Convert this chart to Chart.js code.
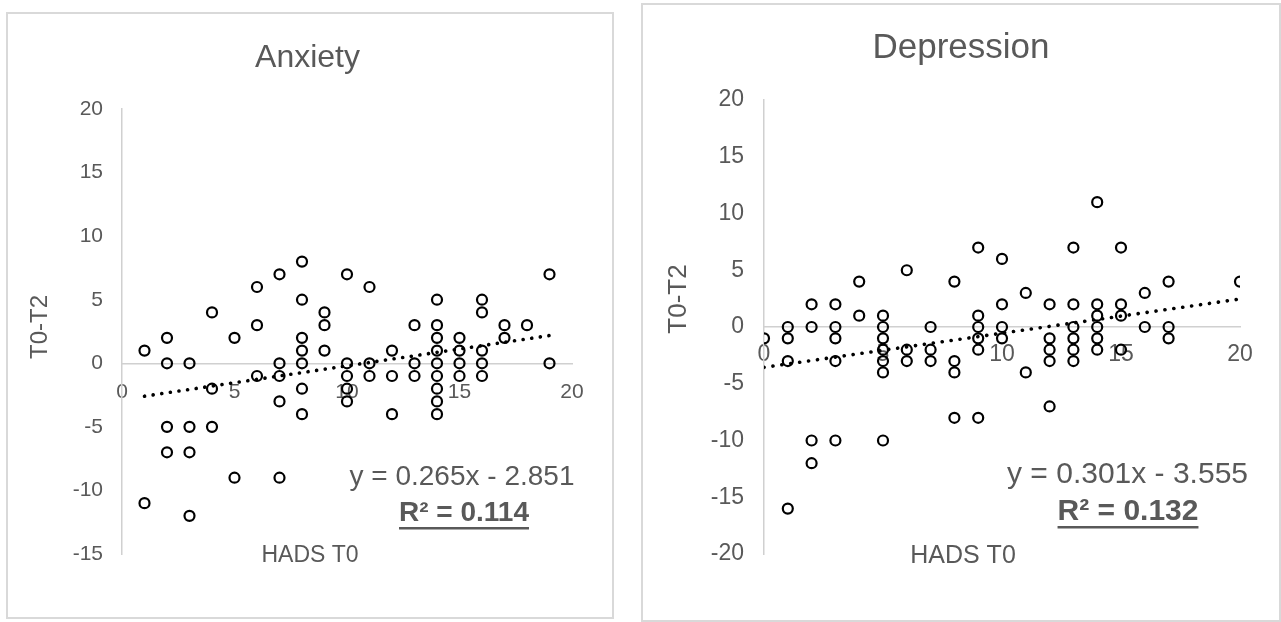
<!DOCTYPE html>
<html><head><meta charset="utf-8">
<script src="https://cdn.jsdelivr.net/npm/chart.js@4.4.0/dist/chart.umd.min.js"></script>
<style>
html,body{margin:0;padding:0;background:#fff;width:1281px;height:622px;overflow:hidden;}
canvas{position:absolute;}
#cv1{left:6px;top:12px;}
#cv2{left:641px;top:3px;}
</style></head><body>
<canvas id="cv1" width="608" height="607"></canvas>
<canvas id="cv2" width="640" height="619"></canvas>
<script>
// ---- Anxiety (HADS T0 vs T0-T2) ----
const anxietyX = [1,1, 2,2,2,2, 3,3,3,3, 4,4,4, 5,5, 6,6,6, 7,7,7,7,7,
  8,8,8,8,8,8,8, 9,9,9, 10,10,10,10,10, 11,11,11, 12,12,12, 13,13,13,
  14,14,14,14,14,14,14,14,14, 15,15,15,15, 16,16,16,16,16, 17,17, 18, 19,19];
const anxietyY = [1,-11, 2,0,-5,-7, 0,-5,-7,-12, 4,-2,-5, 2,-9, 6,3,-1, 7,0,-1,-3,-9,
  8,5,2,1,0,-2,-4, 4,3,1, 7,0,-1,-2,-3, 6,0,-1, 1,-1,-4, 3,0,-1,
  5,3,2,1,0,-1,-2,-3,-4, 2,1,0,-1, 5,4,1,0,-1, 3,2, 3, 7,0];
const anxietyTrendX = [1, 19];
const anxietyTrendY = [-2.586, 2.184];

// ---- Depression ----
const depressionX = [0, 1,1,1,1, 2,2,2,2, 3,3,3,3,3, 4,4, 5,5,5,5,5,5,5, 6,6,6, 7,7,7,
  8,8,8,8, 9,9,9,9,9,9, 10,10,10,10, 11,11, 12,12,12,12,12, 13,13,13,13,13,13,
  14,14,14,14,14,14, 15,15,15,15, 16,16, 17,17,17, 20];
const depressionY = [-1, 0,-1,-3,-16, 2,0,-10,-12, 2,0,-1,-3,-10, 4,1, 1,0,-1,-2,-3,-4,-10, 5,-2,-3, 0,-2,-3,
  4,-3,-4,-8, 7,1,0,-1,-2,-8, 6,2,0,-1, 3,-4, 2,-1,-2,-3,-7, 7,2,0,-1,-2,-3,
  11,2,1,0,-1,-2, 7,2,1,-2, 3,0, 4,0,-1, 4];
const depressionTrendX = [0, 20];
const depressionTrendY = [-3.555, 2.465];

const xTickValues = [0, 5, 10, 15, 20];
const anxietyYTicks = [20, 15, 10, 5, 0, -5, -10, -15];
const depressionYTicks = [20, 15, 10, 5, 0, -5, -10, -15, -20];

const titles = ['Anxiety', 'Depression'];
const xTitle = 'HADS T0';
const yTitle = 'T0-T2';
const equations = ['y = 0.265x - 2.851', 'y = 0.301x - 3.555'];
const r2Labels = ['R² = 0.114', 'R² = 0.132'];

const FAM = '"Liberation Sans", Arial, sans-serif';
const GREY = '#595959';

function pts(xs, ys){ return xs.map((x,i)=>({x:x, y:ys[i]})); }

function decoPlugin(items){
  return {
    id: 'deco',
    beforeDraw(chart){
      const ctx = chart.ctx;
      ctx.save();
      ctx.fillStyle = '#fff';
      ctx.fillRect(0,0,chart.width,chart.height);
      ctx.strokeStyle = '#d9d9d9';
      ctx.lineWidth = 2;
      ctx.strokeRect(1,1,chart.width-2,chart.height-2);
      ctx.restore();
    },
    afterDraw(chart){
      const ctx = chart.ctx;
      for (const t of items){
        ctx.save();
        ctx.font = t.font;
        ctx.fillStyle = GREY;
        ctx.textAlign = 'center';
        ctx.textBaseline = t.baseline || 'middle';
        ctx.translate(t.x, t.y);
        if (t.rotate) ctx.rotate(-Math.PI/2);
        ctx.fillText(t.text, 0, 0);
        if (t.underline){
          const w = ctx.measureText(t.text).width;
          ctx.fillRect(-w/2, t.underline, w, 2.5);
        }
        ctx.restore();
      }
    }
  };
}

function makeChart(id, cfg){
  const yTicks = cfg.yTicks;
  new Chart(document.getElementById(id), {
    type: 'scatter',
    data: {
      datasets: [
        {
          data: pts(cfg.tx, cfg.ty),
          showLine: true,
          borderColor: '#000',
          borderWidth: 3.6,
          borderDash: [0.1, cfg.dash],
          borderCapStyle: 'round',
          pointRadius: 0,
          fill: false
        },
        {
          data: pts(cfg.x, cfg.y),
          pointRadius: 5,
          pointBorderWidth: 2.2,
          pointBorderColor: '#000',
          pointBackgroundColor: 'rgba(0,0,0,0)',
          showLine: false
        }
      ]
    },
    options: {
      responsive: false,
      animation: false,
      events: [],
      layout: { padding: cfg.padding },
      plugins: { legend: {display:false}, tooltip: {enabled:false}, title: {display:false} },
      scales: {
        x: {
          type: 'linear', min: 0, max: 20,
          position: {y: 0},
          afterBuildTicks: s => { s.ticks = xTickValues.map(v => ({value: v})); },
          ticks: { color: GREY, font: {family: FAM, size: cfg.tickSize}, padding: cfg.xPad, maxRotation: 0, autoSkip: false },
          grid: { display: false, drawTicks: false },
          border: { display: true, color: '#d0d0d0', width: 1.5 }
        },
        y: {
          type: 'linear', min: yTicks[yTicks.length-1], max: yTicks[0],
          position: 'left',
          afterBuildTicks: s => { s.ticks = yTicks.slice().reverse().map(v => ({value: v})); },
          afterFit: s => { s.width = cfg.yWidth; },
          ticks: { color: GREY, font: {family: FAM, size: cfg.tickSize}, padding: cfg.yPad, autoSkip: false },
          grid: { display: false, drawTicks: false },
          border: { display: true, color: '#d0d0d0', width: 1.5 }
        }
      }
    },
    plugins: [decoPlugin(cfg.texts)]
  });
}

makeChart('cv1', {
  x: anxietyX, y: anxietyY, tx: anxietyTrendX, ty: anxietyTrendY, yTicks: anxietyYTicks,
  padding: {left: 0, top: 97, right: 42, bottom: 65}, yWidth: 116,
  tickSize: 21, xPad: 16, yPad: 19, dash: 8.6,
  texts: [
    {text: titles[0], x: 301.5, y: 55, font: '32px ' + FAM, baseline: 'alphabetic'},
    {text: yTitle, x: 34, y: 315, font: '24px ' + FAM, rotate: true},
    {text: xTitle, x: 304, y: 544, font: '23px ' + FAM},
    {text: equations[0], x: 456, y: 465, font: '28px ' + FAM},
    {text: r2Labels[0], x: 458, y: 501, font: 'bold 28px ' + FAM, underline: 14}
  ]
});

makeChart('cv2', {
  x: depressionX, y: depressionY, tx: depressionTrendX, ty: depressionTrendY, yTicks: depressionYTicks,
  padding: {left: 0, top: 97, right: 41, bottom: 68}, yWidth: 123,
  tickSize: 23, xPad: 14, yPad: 20, dash: 8.9,
  texts: [
    {text: titles[1], x: 320, y: 55, font: '35px ' + FAM, baseline: 'alphabetic'},
    {text: yTitle, x: 38, y: 296, font: '26px ' + FAM, rotate: true},
    {text: xTitle, x: 322, y: 553, font: '25px ' + FAM},
    {text: equations[1], x: 486.5, y: 472, font: '30px ' + FAM},
    {text: r2Labels[1], x: 487, y: 509, font: 'bold 30px ' + FAM, underline: 14}
  ]
});
</script>
</body></html>
